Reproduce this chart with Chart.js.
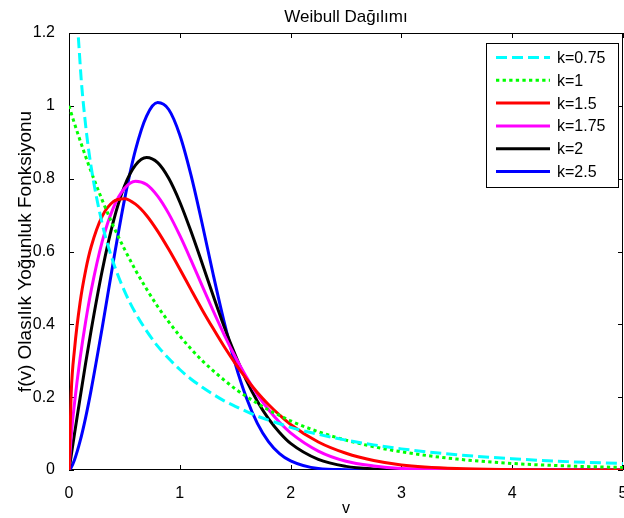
<!DOCTYPE html>
<html>
<head>
<meta charset="utf-8">
<script src="https://cdn.jsdelivr.net/npm/chart.js@4.4.1/dist/chart.umd.min.js"></script>
<style>
html, body { margin: 0; padding: 0; background: #fff; }
#wrap { width: 624px; height: 518px; }
</style>
</head>
<body>
<div id="wrap"><canvas id="weibullChart"></canvas></div>
<script>
// v values (x axis) and density values for each shape k
const v_values = [0, 0.02, 0.05, 0.1, 0.15, 0.2, 0.3, 0.4, 0.5, 0.6, 0.7, 0.8, 0.9, 1.0, 1.1, 1.2, 1.3, 1.4, 1.5, 1.6, 1.7, 1.8, 1.9, 2.0, 2.25, 2.5, 2.75, 3.0, 3.5, 4.0, 4.5, 5.0];
const k_labels = ['k=0.75', 'k=1', 'k=1.5', 'k=1.75', 'k=2', 'k=2.5'];

const f_k075 = [null, 1.891, 1.427, 1.117, 0.947, 0.832, 0.676, 0.570, 0.492, 0.431, 0.382, 0.340, 0.306, 0.276, 0.250, 0.228, 0.208, 0.190, 0.175, 0.161, 0.148, 0.137, 0.127, 0.117, 0.098, 0.082, 0.069, 0.058, 0.042, 0.031, 0.023, 0.018];
const f_k1 = [1.000, 0.980, 0.951, 0.905, 0.861, 0.819, 0.741, 0.670, 0.607, 0.549, 0.497, 0.449, 0.407, 0.368, 0.333, 0.301, 0.273, 0.247, 0.223, 0.202, 0.183, 0.165, 0.150, 0.135, 0.105, 0.082, 0.064, 0.050, 0.030, 0.018, 0.011, 0.007];
const f_k15 = [0, 0.212, 0.332, 0.460, 0.548, 0.613, 0.697, 0.737, 0.745, 0.730, 0.699, 0.656, 0.606, 0.552, 0.496, 0.441, 0.389, 0.339, 0.293, 0.251, 0.213, 0.180, 0.151, 0.125, 0.077, 0.046, 0.026, 0.014, 0.004, 0.001, 0.000, 0.000];
const f_k175 = [0, 0.093, 0.184, 0.306, 0.407, 0.493, 0.628, 0.720, 0.773, 0.793, 0.784, 0.752, 0.704, 0.644, 0.577, 0.507, 0.438, 0.372, 0.311, 0.256, 0.207, 0.166, 0.131, 0.102, 0.052, 0.024, 0.011, 0.004, 0.001, 0, 0, 0];
const f_k2 = [0, 0.040, 0.100, 0.198, 0.293, 0.384, 0.548, 0.682, 0.779, 0.837, 0.858, 0.844, 0.801, 0.736, 0.656, 0.569, 0.480, 0.394, 0.316, 0.247, 0.189, 0.141, 0.103, 0.073, 0.029, 0.010, 0.003, 0.001, 0, 0, 0, 0];
const f_k25 = [0, 0.007, 0.028, 0.079, 0.144, 0.220, 0.391, 0.572, 0.741, 0.879, 0.972, 1.009, 0.990, 0.920, 0.811, 0.679, 0.539, 0.407, 0.292, 0.199, 0.128, 0.078, 0.045, 0.025, 0.004, 0.001, 0, 0, 0, 0, 0, 0];

const line_colours = ['#00ffff', '#00ff00', '#ff0000', '#ff00ff', '#000000', '#0000ff'];
const line_dashes = [[11, 5], [3.3, 3.3], [], [], [], []];

const FONT = '"Liberation Sans", Arial, Helvetica, sans-serif';
Chart.defaults.font.family = FONT;
Chart.defaults.color = '#000';

function toPoints(ys) {
    return v_values.map((v, i) => ({ x: v, y: ys[i] }));
}

const series = [f_k075, f_k1, f_k15, f_k175, f_k2, f_k25];
const datasets = series.map((ys, i) => ({
    label: k_labels[i],
    data: toPoints(ys),
    borderColor: line_colours[i],
    backgroundColor: line_colours[i],
    borderWidth: 3,
    borderDash: line_dashes[i],
    pointRadius: 0,
    cubicInterpolationMode: 'monotone',
    fill: false
}));

// box round the axes with inward tick marks, matlab style
const matlabFrame = {
    id: 'matlabFrame',
    beforeDatasetsDraw(chart) {
        const { ctx, chartArea: a, scales: { x, y } } = chart;
        ctx.save();
        ctx.strokeStyle = '#000';
        ctx.lineWidth = 1;
        ctx.setLineDash([]);
        ctx.strokeRect(a.left + 0.5, a.top + 0.5, a.right - a.left - 1, a.bottom - a.top - 1);
        ctx.beginPath();
        x.ticks.forEach(t => {
            const px = Math.round(x.getPixelForValue(t.value)) + 0.5;
            ctx.moveTo(px, a.bottom); ctx.lineTo(px, a.bottom - 5);
            ctx.moveTo(px, a.top); ctx.lineTo(px, a.top + 5);
        });
        y.ticks.forEach(t => {
            const py = Math.round(y.getPixelForValue(t.value)) + 0.5;
            ctx.moveTo(a.left, py); ctx.lineTo(a.left + 5, py);
            ctx.moveTo(a.right, py); ctx.lineTo(a.right - 5, py);
        });
        ctx.stroke();
        ctx.restore();
    }
};

// legend with a border, drawn inside the top right corner
const boxedLegend = {
    id: 'boxedLegend',
    afterDatasetsDraw(chart) {
        const { ctx, chartArea: a } = chart;
        const w = 132, h = 144, rowH = 22.8;
        const left = a.right - 5 - w, top = a.top + 10;
        ctx.save();
        ctx.fillStyle = '#fff';
        ctx.fillRect(left, top, w, h);
        ctx.strokeStyle = '#000';
        ctx.lineWidth = 1;
        ctx.setLineDash([]);
        ctx.strokeRect(left + 0.5, top + 0.5, w, h);
        ctx.font = '16px ' + FONT;
        ctx.textBaseline = 'middle';
        ctx.textAlign = 'left';
        chart.data.datasets.forEach((ds, i) => {
            const cy = top + 14.5 + i * rowH;
            ctx.beginPath();
            ctx.strokeStyle = ds.borderColor;
            ctx.lineWidth = ds.borderWidth;
            ctx.setLineDash(ds.borderDash || []);
            ctx.moveTo(left + 10, cy);
            ctx.lineTo(left + 64, cy);
            ctx.stroke();
            ctx.fillStyle = '#000';
            ctx.fillText(ds.label, left + 71, cy + 1);
        });
        ctx.restore();
    }
};

const weibullChart = new Chart(document.getElementById('weibullChart'), {
    type: 'line',
    data: { datasets: datasets },
    options: {
        responsive: true,
        maintainAspectRatio: false,
        animation: false,
        layout: { padding: { left: 0, right: 1, top: 0, bottom: 0 } },
        plugins: {
            legend: { display: false },
            tooltip: { enabled: false },
            title: {
                display: true,
                fullSize: false,
                text: 'Weibull Dağılımı',
                color: '#000',
                font: { size: 17, weight: 'normal' },
                padding: { top: 7, bottom: 5.6 }
            }
        },
        scales: {
            x: {
                type: 'linear',
                min: 0,
                max: 5,
                grid: { display: false },
                border: { display: false },
                ticks: { stepSize: 1, padding: 6, font: { size: 16 }, color: '#000', maxRotation: 0 },
                title: { display: true, text: 'v', font: { size: 16 }, color: '#000', padding: { top: 0, bottom: 0 } },
                afterFit(scale) {
                    scale.height = 48;
                    scale.paddingLeft = 0;
                    scale.paddingRight = 0;
                }
            },
            y: {
                type: 'linear',
                min: 0,
                max: 1.2,
                grid: { display: false },
                border: { display: false },
                ticks: {
                    stepSize: 0.2, padding: 6, font: { size: 16 }, color: '#000',
                    callback: value => String(+value.toFixed(1))
                },
                title: { display: true, text: 'f(v) Olasılık Yoğunluk Fonksiyonu', font: { size: 19 }, color: '#000', padding: { top: 14, bottom: 0 } },
                afterFit(scale) {
                    scale.width = 69;
                    scale.paddingTop = 0;
                    scale.paddingBottom = 0;
                }
            }
        }
    },
    plugins: [matlabFrame, boxedLegend]
});
</script>
</body>
</html>
